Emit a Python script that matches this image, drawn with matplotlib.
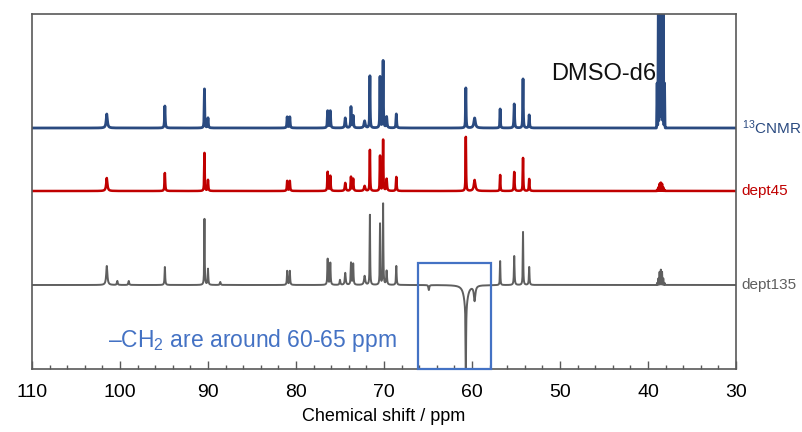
import matplotlib
matplotlib.use("Agg")
import matplotlib.pyplot as plt
from matplotlib.patches import Rectangle
from matplotlib.ticker import MultipleLocator
import numpy as np

plt.rcParams['font.family'] = ['Liberation Sans', 'DejaVu Sans']
plt.rcParams['mathtext.fontset'] = 'custom'
plt.rcParams['mathtext.rm'] = 'Liberation Sans'
plt.rcParams['mathtext.it'] = 'Liberation Sans'
plt.rcParams['mathtext.default'] = 'regular'

# peak positions (ppm) shared by the three spectra
shifts = [101.5, 94.9, 90.4, 90.0, 81.0, 80.7, 76.4, 76.1, 74.4, 73.75, 73.5,
          72.2, 71.6, 70.45, 70.1, 69.7, 68.6, 60.7, 59.7, 56.8, 55.2, 54.2, 53.5]
widths = [0.08, 0.04, 0.03, 0.04, 0.04, 0.04, 0.04, 0.04, 0.06, 0.04, 0.04,
          0.08, 0.03, 0.03, 0.03, 0.05, 0.04, 0.03, 0.10, 0.03, 0.04, 0.03, 0.04]
cnmr = [14, 22, 39, 10, 11, 11, 17, 17, 10, 21, 12, 7, 52, 51, 67, 11, 14, 40, 10, 19, 24, 49, 13]
dept45 = [13, 18, 38, 11, 10, 10, 19, 15, 8, 14, 12, 5, 41, 35, 51, 12, 14, 54, 11, 16, 19, 33, 12]
dept135 = [19, 18, 66, 16, 14, 14, 26, 22, 12, 22, 21, 9, 70, 61, 81, 14, 19, -77, -15, 24, 29, 53, 18]

# a few small extra lines only seen in dept135
extra135_shifts = [100.3, 99.0, 88.6, 75.0, 64.9, 60.7]
extra135_heights = [4, 4, 3, 5, -5, -20]
extra135_widths = [0.05, 0.05, 0.05, 0.05, 0.05, 0.25]

# DMSO-d6 septet
dmso_shifts = [38.12, 38.26, 38.40, 38.54, 38.68, 38.82, 38.96]
dmso_ratio = [1, 3, 6, 7, 6, 3, 1]
dmso_scale = {'cnmr': 45, 'dept45': 1.2, 'dept135': 2.2}

offsets = {'cnmr': 241, 'dept45': 178, 'dept135': 84}
colors = {'cnmr': '#2a4a80', 'dept45': '#c00000', 'dept135': '#5f5f5f'}
labels = {'cnmr': '$^{13}$CNMR', 'dept45': 'dept45', 'dept135': 'dept135'}
lwidths = {'cnmr': 2.0, 'dept45': 1.8, 'dept135': 1.4}

ppm = np.linspace(30, 110, 16001)


def lorentz(x0, h, w):
    return h * w ** 2 / ((ppm - x0) ** 2 + w ** 2)


def gauss(x0, h, w):
    return h * np.exp(-0.5 * ((ppm - x0) / w) ** 2)


def spectrum(heights, key, extra=None):
    y = np.zeros_like(ppm)
    for s, h, w in zip(shifts, heights, widths):
        y += lorentz(s, h, w)
    for s, r in zip(dmso_shifts, dmso_ratio):
        y += gauss(s, r * dmso_scale[key], 0.025)
    if extra is not None:
        for s, h, w in zip(*extra):
            y += lorentz(s, h, w)
    return y + offsets[key]


fig = plt.figure(figsize=(8.03, 4.32), dpi=100)
ax = fig.add_axes([32 / 803, 63 / 432, 704 / 803, 355 / 432])

ax.plot(ppm, spectrum(cnmr, 'cnmr'), color=colors['cnmr'], lw=lwidths['cnmr'])
ax.plot(ppm, spectrum(dept45, 'dept45'), color=colors['dept45'], lw=lwidths['dept45'])
ax.plot(ppm, spectrum(dept135, 'dept135',
                      (extra135_shifts, extra135_heights, extra135_widths)),
        color=colors['dept135'], lw=lwidths['dept135'])

ax.set_xlim(110, 30)
ax.set_ylim(0, 355)

for key in ['cnmr', 'dept45', 'dept135']:
    ax.text(1.008, offsets[key], labels[key], color=colors[key], fontsize=11,
            ha='left', va='center',
            transform=ax.get_yaxis_transform())

ax.text(39.1, 295, 'DMSO-d6', fontsize=17, ha='right', va='center', color='#111111')
ax.text(101.4, 29, '–CH$_2$ are around 60-65 ppm', fontsize=16.5,
        color='#4472c4', ha='left', va='center')
ax.add_patch(Rectangle((57.8, 0), 8.3, 106, fill=False, edgecolor='#4472c4',
                       lw=1.6, clip_on=False, zorder=5))

ax.xaxis.set_major_locator(MultipleLocator(10))
ax.xaxis.set_minor_locator(MultipleLocator(2))
ax.tick_params(axis='x', which='major', direction='in', length=6, width=1,
               color='#595959', labelsize=14, pad=11)
ax.tick_params(axis='x', which='minor', direction='in', length=3, width=1,
               color='#595959')
ax.set_yticks([])
for sp in ax.spines.values():
    sp.set_color('#595959')
    sp.set_linewidth(1.2)

ax.set_xlabel('Chemical shift / ppm', fontsize=13, labelpad=5)

fig.savefig('out.png', dpi=100)
